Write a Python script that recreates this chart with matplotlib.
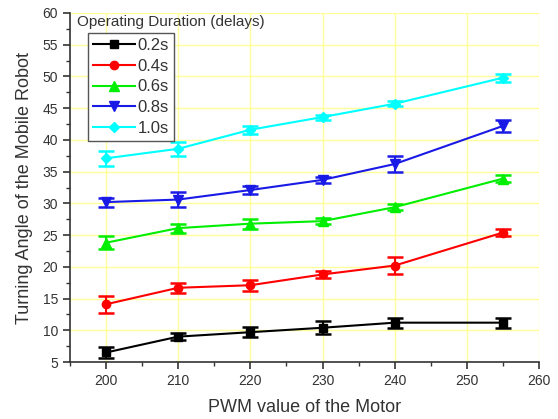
import matplotlib
matplotlib.use("Agg")
import matplotlib.pyplot as plt
from matplotlib.lines import Line2D
from matplotlib.ticker import MultipleLocator

plt.rcParams['font.family'] = ['Liberation Sans', 'DejaVu Sans']

pwm = [200, 210, 220, 230, 240, 255]
labels = ['0.2s', '0.4s', '0.6s', '0.8s', '1.0s']
angle_02 = [6.5, 9.0, 9.7, 10.4, 11.2, 11.2]
err_02 = [0.9, 0.5, 0.8, 1.0, 0.8, 0.8]
angle_04 = [14.1, 16.7, 17.1, 18.8, 20.2, 25.4]
err_04 = [1.3, 0.8, 0.9, 0.5, 1.4, 0.5]
angle_06 = [23.8, 26.1, 26.8, 27.2, 29.4, 33.9]
err_06 = [1.0, 0.7, 0.8, 0.5, 0.5, 0.6]
angle_08 = [30.2, 30.6, 32.1, 33.7, 36.2, 42.2]
err_08 = [0.7, 1.2, 0.7, 0.5, 1.3, 1.0]
angle_10 = [37.1, 38.6, 41.6, 43.6, 45.7, 49.8]
err_10 = [1.2, 1.1, 0.6, 0.4, 0.4, 0.6]

series = [angle_02, angle_04, angle_06, angle_08, angle_10]
errors = [err_02, err_04, err_06, err_08, err_10]
colors = ['#000000', '#ff0000', '#00ee00', '#1a1ae6', '#00ffff']
markers = ['s', 'o', '^', 'v', 'D']
msizes = [5.5, 6, 6.5, 6.5, 5]

text_color = '#333333'

fig = plt.figure(figsize=(5.58, 4.19), dpi=100)
ax = fig.add_axes([0.1254, 0.136, 0.966 - 0.1254, 0.969 - 0.136])

handles = []
for y, e, c, m, ms, lab in zip(series, errors, colors, markers, msizes, labels):
    ax.errorbar(pwm, y, yerr=e, color=c, marker=m, markersize=ms,
                linewidth=1.5, elinewidth=1.5, capsize=5.5, capthick=1.8,
                zorder=3)
    handles.append(Line2D([], [], color=c, marker=m, markersize=ms,
                          linewidth=1.5, label=lab))

ax.set_xlim(195, 260)
ax.set_ylim(5, 60)
ax.xaxis.set_major_locator(MultipleLocator(10))
ax.xaxis.set_minor_locator(MultipleLocator(5))
ax.yaxis.set_major_locator(MultipleLocator(5))
ax.yaxis.set_minor_locator(MultipleLocator(2.5))
ax.set_xticks([200, 210, 220, 230, 240, 250, 260])

ax.grid(True, which='major', color='#ffff99', linewidth=1.0, zorder=0)
ax.set_axisbelow(True)
for side in ('top', 'right'):
    ax.spines[side].set_visible(False)
for side in ('left', 'bottom'):
    ax.spines[side].set_color('#333333')
    ax.spines[side].set_linewidth(1.2)

ax.tick_params(which='major', direction='out', length=5, width=1.2,
               colors='#333333', labelsize=10, labelcolor=text_color)
ax.tick_params(which='minor', direction='out', length=3, width=1.0,
               colors='#333333')

ax.set_xlabel('PWM value of the Motor', fontsize=13, color=text_color,
              labelpad=8)
ax.set_ylabel('Turning Angle of the Mobile Robot', fontsize=13,
              color=text_color, labelpad=7)

ax.text(0.015, 0.993, 'Operating Duration (delays)', transform=ax.transAxes,
        fontsize=11, color=text_color, va='top', ha='left')

leg = ax.legend(handles=handles, loc='upper left',
                bbox_to_anchor=(0.028, 0.957), fontsize=12,
                handlelength=2.5, handletextpad=0.15, labelspacing=0.34,
                borderpad=0.31, borderaxespad=0.3, fancybox=False,
                framealpha=1, edgecolor='#555555', labelcolor=text_color)
leg.get_frame().set_linewidth(1.0)

fig.savefig('out.png', dpi=100, facecolor='white')
